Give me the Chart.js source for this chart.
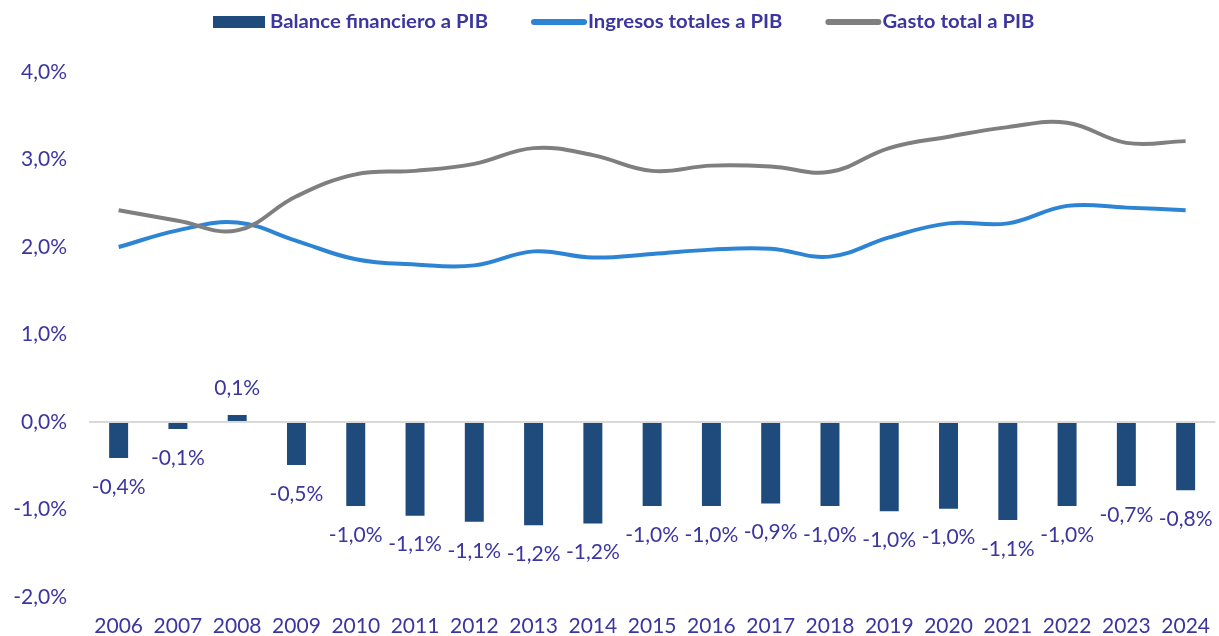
<!DOCTYPE html>
<html>
<head>
<meta charset="utf-8">
<script src="https://cdn.jsdelivr.net/npm/chart.js@4"></script>
<style>
  body { margin: 0; background: #fff; }
  #wrap { width: 1219px; height: 636px; }
</style>
</head>
<body>
<div id="wrap"><canvas id="myChart"></canvas></div>
<script>
// DATA
const years = ["2006", "2007", "2008", "2009", "2010", "2011", "2012", "2013", "2014", "2015",
  "2016", "2017", "2018", "2019", "2020", "2021", "2022", "2023", "2024"];
const balance = [-0.41, -0.08, 0.08, -0.49, -0.96, -1.07, -1.14, -1.18, -1.16, -0.96,
  -0.96, -0.93, -0.96, -1.02, -0.99, -1.12, -0.96, -0.73, -0.78];
const ingresos = [2.0, 2.19, 2.28, 2.07, 1.86, 1.8, 1.79, 1.95, 1.88, 1.92,
  1.97, 1.98, 1.89, 2.11, 2.27, 2.27, 2.47, 2.45, 2.42];
const gasto = [2.42, 2.3, 2.19, 2.58, 2.83, 2.87, 2.95, 3.13, 3.05, 2.87,
  2.93, 2.92, 2.86, 3.13, 3.26, 3.37, 3.42, 3.19, 3.21];
const yTicks = [-2, -1, 0, 1, 2, 3, 4];

const TXT = "#3b369f";
const fmt = function (v) {
  return v.toFixed(1).replace(".", ",") + "%";
};

// bar value labels
const barLabels = {
  id: "barLabels",
  afterDatasetsDraw: function (chart) {
    const ctx = chart.ctx;
    const meta = chart.getDatasetMeta(0);
    ctx.save();
    ctx.font = "21px Lato";
    ctx.fillStyle = TXT;
    ctx.textAlign = "center";
    ctx.textBaseline = "middle";
    meta.data.forEach(function (bar, i) {
      const v = balance[i];
      const y = v < 0 ? bar.y + 29 : bar.y - 27;
      ctx.fillText(fmt(v), bar.x, y);
    });
    ctx.restore();
  },
};

// legend drawn by hand (bold text, long markers like the original)
const topLegend = {
  id: "topLegend",
  afterDraw: function (chart) {
    const ctx = chart.ctx;
    ctx.save();
    ctx.font = "bold 18px Lato";
    ctx.textBaseline = "middle";
    const sx = 218 / ctx.measureText(chart.data.datasets[0].label).width;
    let x = 213;
    const y = 22;
    chart.data.datasets.forEach(function (ds, i) {
      ctx.fillStyle = ds.borderColor;
      if (i === 0) {
        ctx.fillRect(x, y - 6, 52, 12);
      } else {
        ctx.strokeStyle = ds.borderColor;
        ctx.lineWidth = 6;
        ctx.lineCap = "round";
        ctx.beginPath();
        ctx.moveTo(x + 3, y);
        ctx.lineTo(x + 53, y);
        ctx.stroke();
      }
      x += 57;
      const w = ctx.measureText(ds.label).width * sx;
      ctx.save();
      ctx.translate(x, y);
      ctx.scale(sx, 1);
      ctx.fillStyle = TXT;
      ctx.fillText(ds.label, 0, 0);
      ctx.restore();
      x += w + 43;
    });
    ctx.restore();
  },
};

const ctx = document.getElementById("myChart");

new Chart(ctx, {
  data: {
    labels: years,
    datasets: [
      {
        type: "bar",
        label: "Balance financiero a PIB",
        data: balance,
        backgroundColor: "#1f4a7c",
        borderColor: "#1f4a7c",
        barPercentage: 0.32,
        categoryPercentage: 1,
        order: 3,
      },
      {
        type: "line",
        label: "Ingresos totales a PIB",
        data: ingresos,
        borderColor: "#2e84d4",
        backgroundColor: "#2e84d4",
        borderWidth: 4,
        pointRadius: 0,
        tension: 0.4,
        order: 2,
      },
      {
        type: "line",
        label: "Gasto total a PIB",
        data: gasto,
        borderColor: "#7f7f7f",
        backgroundColor: "#7f7f7f",
        borderWidth: 4,
        pointRadius: 0,
        tension: 0.4,
        order: 1,
      },
    ],
  },
  options: {
    responsive: true,
    maintainAspectRatio: false,
    animation: false,
    layout: { padding: { top: 72, right: 0, bottom: 0, left: 0 } },
    plugins: {
      legend: { display: false },
      tooltip: { enabled: false },
    },
    scales: {
      x: {
        grid: { display: false },
        border: { display: false },
        afterFit: function (axis) { axis.height = 39; },
        ticks: { color: TXT, font: { family: "Lato", size: 21 }, padding: 9 },
      },
      y: {
        min: -2,
        max: 4,
        afterBuildTicks: function (axis) {
          axis.ticks = yTicks.map(function (v) { return { value: v }; });
        },
        afterFit: function (axis) { axis.width = 89; },
        grid: {
          drawTicks: false,
          lineWidth: 2,
          color: function (c) { return c.tick && c.tick.value === 0 ? "#d9d9d9" : "rgba(0,0,0,0)"; },
        },
        border: { display: false },
        ticks: {
          color: TXT,
          font: { family: "Lato", size: 21 },
          padding: 22,
          callback: function (v) { return fmt(v); },
        },
      },
    },
  },
  plugins: [barLabels, topLegend],
});
</script>
</body>
</html>
